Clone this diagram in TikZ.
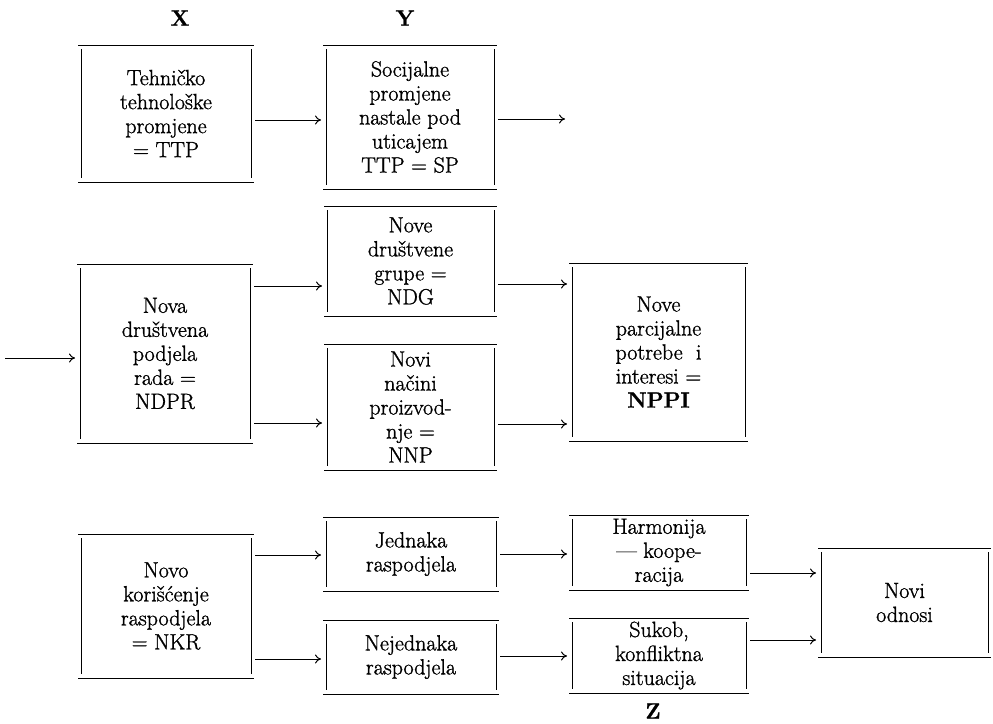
\documentclass[tikz,border=0pt]{standalone}
\usepackage{amsmath}
\usepackage{fontspec}
\setmainfont{Latin Modern Roman}[FakeBold=1.2]
\usepackage{tikz}
\usetikzlibrary{arrows.meta}

\begin{document}
\begin{tikzpicture}[x=1pt, y=-1pt]
    \tikzstyle{box}=[minimum width=170pt, inner sep=0pt, outer sep=0pt, align=center, font=\fontsize{22}{24}\selectfont]
    \tikzstyle{lbl}=[font=\bfseries\fontsize{22}{24}\selectfont]
    \tikzstyle{arr}=[-{To[length=6pt, width=9pt]}, line width=1pt, shorten <=4pt, shorten >=5pt]

    \useasboundingbox (0,0) rectangle (993,723);

    % column headings
    \node[lbl] (lx) at (180,18) {X};
    \node[lbl] (ly) at (405,18) {Y};
    \node[lbl] (lz) at (653,711) {Z};

    % first row
    \node[box, minimum height=137pt] (ttp) at (166,113.5) {Tehničko\\tehnološke\\promjene\\= TTP};
    \node[box, minimum width=168pt, minimum height=144pt] (sp) at (410,117) {Socijalne\\promjene\\nastale pod\\uticajem\\TTP = SP};

    % second row
    \node[box, minimum height=179pt] (ndpr) at (165,353.5) {Nova\\društvena\\podjela\\rada =\\NDPR};
    \node[box, minimum width=167pt, minimum height=110pt] (ndg) at (410.5,261) {Nove\\društvene\\grupe =\\NDG};
    \node[box, minimum width=167pt, minimum height=126pt] (nnp) at (410.5,407) {Novi\\načini\\proizvod-\\nje =\\NNP};
    \node[box, minimum width=173pt, minimum height=178pt] (nppi) at (658.5,352) {Nove\\parcijalne\\potrebe\ \ i\\interesi =\\\textbf{NPPI}};

    % third row
    \node[box, minimum height=144pt] (nkr) at (166,606) {Novo\\korišćenje\\raspodjela\\= NKR};
    \node[box, minimum height=74pt] (jed) at (411,554) {Jednaka\\raspodjela};
    \node[box, minimum height=74pt] (nejed) at (411,657) {Nejednaka\\raspodjela};
    \node[box, minimum width=174pt, minimum height=75pt] (harm) at (659,552.5) {Harmonija\\--- koope-\\racija};
    \node[box, minimum width=174pt, minimum height=75pt] (sukob) at (659,655.5) {Sukob,\\konfliktna\\situacija};
    \node[box, minimum width=167pt, minimum height=109pt] (odn) at (904.5,602.5) {Novi\\odnosi};

    % box outlines: long top and bottom rules, short sides
    \foreach \b in {ttp,sp,ndpr,ndg,nnp,nppi,nkr,jed,nejed,harm,sukob,odn} {
        \draw[line width=1pt] ([xshift=-3pt]\b.north west) -- ([xshift=3pt]\b.north east);
        \draw[line width=1pt] ([xshift=-3pt]\b.south west) -- ([xshift=3pt]\b.south east);
        \draw[line width=1pt] ([yshift=-4pt]\b.north west) -- ([yshift=4pt]\b.south west);
        \draw[line width=1pt] ([yshift=-4pt]\b.north east) -- ([yshift=4pt]\b.south east);
    }

    % arrows
    \coordinate (in) at (5,358);
    \coordinate (out) at (565,119);
    \draw[arr, shorten <=0pt] (in) -- (ndpr.west |- in);
    \draw[arr, shorten >=0pt] (sp.east |- out) -- (out);

    \foreach \a/\b/\y in {ttp/sp/120, ndpr/ndg/286, ndpr/nnp/423, ndg/nppi/284, nnp/nppi/424,
                          nkr/jed/555, nkr/nejed/659, jed/harm/554, nejed/sukob/656,
                          harm/odn/573, sukob/odn/640} {
        \draw[arr] (\a.east |- 0,\y) -- (\b.west |- 0,\y);
    }
\end{tikzpicture}
\end{document}
